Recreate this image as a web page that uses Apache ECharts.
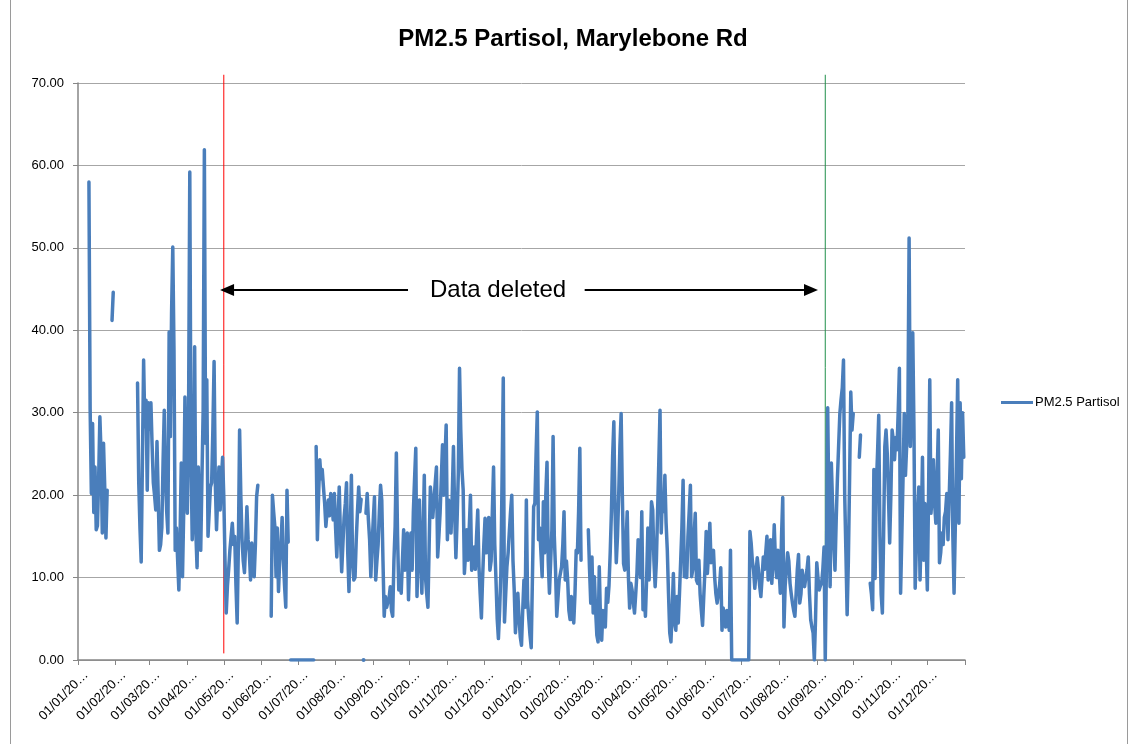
<!DOCTYPE html>
<html>
<head>
<meta charset="utf-8">
<title>PM2.5 Partisol, Marylebone Rd</title>
<script src="https://cdn.jsdelivr.net/npm/echarts@6/dist/echarts.min.js"></script>
<style>
  html, body { margin: 0; padding: 0; background: #fff; }
  #chart { width: 1129px; height: 744px; }
</style>
</head>
<body>
<div id="chart"></div>
<script>
const N = null;

// daily values, one array per month (null = no data)
const jan2010 = [N,N,N,N,N,N,N,N,N, 58.0,30.4,20.2,28.7,17.9,23.4,15.8,16.3,22.0,29.5,25.0,15.4,26.3,21.0,14.8,20.6, N,N,N, 41.2,44.6, N];
const feb2010 = [N,N,N,N,N,N,N,N,N,N,N,N,N,N,N,N,N,N, 33.6,21.5,16.0,11.9,24.0,36.4,28.3,31.5,20.6,31.2];
const mar2010 = [28.0,31.2,26.0,21.5,20.0,18.2,26.5,20.0,13.3,14.0,16.1,24.0,30.3,22.2,18.0,15.4,39.8,27.1,42.1,50.1,37.6,13.3,16.0,12.1,8.5,15.0,23.9,10.1,18.0,31.9,22.0];
const apr2010 = [17.8,30.0,59.2,25.0,14.6,20.0,38.0,15.4,11.2,23.4,18.0,13.3,22.0,30.3,61.9,26.3,34.0,15.0,18.0,21.0,21.5,28.0,36.2,21.5,15.8,20.0,23.4,18.2,22.0,24.6];
const may2010 = [19.8,12.0,5.7,9.0,11.0,13.3,15.0,16.6,14.0,15.0,9.0,4.5,14.0,27.9,20.0,14.6,12.0,10.6,14.0,18.6,14.6,13.0,9.7,14.2,14.3,10.1,14.0,19.8,21.2,N,N];
const jun2010 = [N,N,N,N,N,N,N,N, 5.3,20.0,18.0,16.2,10.1,16.0,8.3,12.1,14.0,17.3,12.1,9.0,6.4,20.6,14.3, N, 0,0,0,0,0,0];
const jul2010 = [0,0,0,0,0,0,0,0,0,0,0,0,0,0, N, 25.9,14.6,20.0,24.3,22.0,23.1,21.0,19.0,16.2,18.0,19.4,17.5,20.2,19.0,17.0,20.2];
const aug2010 = [16.0,12.5,17.0,21.0,15.0,10.7,14.0,17.3,19.0,21.5,13.0,8.3,15.0,22.4,12.0,9.7,10.0,14.6,18.0,21.0,18.0,19.5, N, 0, N, 17.8,20.2,17.0,14.6,10.1,13.9];
const sep2010 = [17.0,19.8,9.7,12.0,14.0,18.0,21.2,19.4,12.0,5.3,7.7,6.4,7.0,7.5,8.9,6.0,5.3,12.0,16.2,25.1,15.0,8.5,10.0,8.1,12.0,15.8,10.9,13.0,15.4,7.3];
const oct2010 = [12.0,15.4,10.9,18.0,22.0,25.7,7.7,14.0,19.4,12.0,8.1,15.0,22.4,10.0,8.0,6.4,14.0,21.0,19.0,17.3,17.4,21.5,23.4,12.5,15.0,17.8,22.0,26.1,20.0,24.3,28.5];
const nov2010 = [14.6,19.4,17.0,15.4,20.0,25.9,18.0,12.4,17.0,22.7,35.4,28.0,23.1,20.6,10.5,13.0,15.8,12.1,16.0,20.0,10.9,12.0,13.7,11.0,15.0,18.2,11.3,8.0,5.1,10.0];
const dec2010 = [14.0,17.2,13.0,15.0,17.3,10.9,12.0,18.0,23.4,14.0,9.7,5.0,2.6,6.0,10.5,22.0,34.2,4.6,8.0,11.3,13.0,15.6,18.0,20.0,12.0,8.5,3.3,6.0,8.1,5.0,2.8];
const jan2011 = [1.8,6.0,9.7,6.4,19.4,7.3,5.0,3.0,1.5,10.0,18.6,19.0,25.0,30.1,14.6,16.0,15.8,10.1,19.2,13.0,20.0,24.0,12.0,8.1,12.0,15.8,27.1,15.0,11.0,5.3,7.5];
const feb2011 = [9.7,10.5,11.3,14.0,18.0,9.7,12.0,9.7,6.0,4.9,7.7,6.0,4.5,8.0,13.3,13.0,18.0,25.7,12.1, N,N,N,N,N, 15.8,11.0,6.9,12.5];
const mar2011 = [5.7,10.1,6.0,3.0,2.2,11.3,5.0,2.4,6.0,5.0,4.0,8.7,7.0,9.0,13.0,18.0,24.7,28.9,18.0,11.8,15.0,20.0,26.0,29.9,20.0,11.7,10.9,14.0,18.0,10.0,6.3];
const apr2011 = [9.3,8.5,7.0,5.7,8.0,10.5,14.6,12.0,10.0,18.0,6.1,8.0,5.3,10.0,16.0,9.7,14.0,19.2,18.2,12.0,8.9,12.0,18.0,24.0,30.3,15.4,20.2,18.0,22.4,16.6];
const may2011 = [13.3,8.0,3.3,2.2,6.0,10.5,4.5,3.6,7.7,4.5,8.0,12.0,16.0,21.8,10.1,12.0,10.0,15.0,18.0,21.2,10.1,11.0,15.0,17.8,9.7,9.3,12.1,8.0,6.0,4.2,7.7];
const jun2011 = [11.0,15.6,10.5,13.0,16.6,11.8,12.0,13.3,10.0,8.0,6.9,7.0,9.0,11.2,3.6,6.3,5.0,4.0,6.0,5.0,3.6,13.3, 0,0,0,0,0,0,0,0];
const jul2011 = [0,0,0,0,0,0,0, 15.6,14.2,12.0,10.9,8.7,10.5,12.4,11.0,9.0,7.7,10.0,12.5,11.0,13.0,15.0,9.7,12.0,14.6,9.3,12.0,16.4,12.0,10.0,13.3];
const aug2011 = [11.0,8.1,15.0,19.7,4.0,9.0,11.0,13.0,12.0,9.3,8.0,6.9,6.0,5.3,8.0,11.0,12.8,6.9,8.0,10.9,9.5,8.9,10.0,11.0,12.5,8.0,4.9,4.0,3.3,0,5.0];
const sep2011 = [11.8,10.0,8.5,9.0,9.3,11.0,13.7,0,12.0,30.6,18.0,8.9,23.9,19.0,14.0,10.9,17.0,22.0,26.0,29.9,31.6,33.0,36.4,20.0,13.0,5.5,12.0,21.8,32.5,27.9];
const oct2011 = [29.9, N,N,N,N, 24.6,27.3, N,N,N,N,N,N,N, 9.3,8.0,6.1,23.1,9.9,21.0,25.0,29.7,15.0,8.0,5.7,15.0,25.9,27.9,25.1,20.0,14.2];
const nov2011 = [20.0,27.9,26.7,24.3,27.0,25.5,30.0,35.4,8.1,15.0,22.0,29.9,22.4,26.0,30.0,51.2,25.9,32.0,39.7,28.0,8.7,14.0,18.0,21.0,9.7,16.0,24.6,12.1,19.0,14.0];
const dec2011 = [8.5,20.0,34.0,17.8,20.0,24.3,19.0,16.6,22.0,27.9,11.8,13.0,15.4,14.0,17.3,18.0,20.2,14.6,19.8,25.0,31.2,15.0,8.1,16.0,25.0,34.0,16.6,31.2,22.0,30.0,24.6];

const seriesName = 'PM2.5 Partisol';
const titleText = 'PM2.5 Partisol, Marylebone Rd';
const noteText = 'Data deleted';
const yTicks = [0, 10, 20, 30, 40, 50, 60, 70];

// 01/01/2010 .. 01/01/2012 (last one only closes the axis)
const dates = [];
for (let i = 0; i <= 730; i++) {
  const d = new Date(Date.UTC(2010, 0, 1 + i));
  const dd = String(d.getUTCDate()).padStart(2, '0');
  const mm = String(d.getUTCMonth() + 1).padStart(2, '0');
  dates.push(dd + '/' + mm + '/' + d.getUTCFullYear());
}

const values = [].concat(
  jan2010, feb2010, mar2010, apr2010, may2010, jun2010,
  jul2010, aug2010, sep2010, oct2010, nov2010, dec2010,
  jan2011, feb2011, mar2011, apr2011, may2011, jun2011,
  jul2011, aug2011, sep2011, oct2011, nov2011, dec2011,
  [N]
);

// a lone reading (no neighbours) gets a dot, like Excel does
const seriesData = values.map((v, i) => {
  const lone = v !== null && values[i - 1] == null && values[i + 1] == null;
  return lone ? {value: v, symbol: 'circle', symbolSize: 4} : v;
});

const monthStart = (i, v) => v.slice(0, 2) === '01';
const font = 'Liberation Sans, Arial, sans-serif';
const blue = '#4a7ebb';

const chart = echarts.init(document.getElementById('chart'));
chart.setOption({
  animation: false,
  title: {
    text: titleText,
    left: 573,
    top: 27,
    padding: 0,
    textAlign: 'center',
    textStyle: {fontFamily: font, fontSize: 24, fontWeight: 'bold', color: '#000'}
  },
  legend: {
    data: [{name: seriesName, icon: 'rect'}],
    left: 1001,
    top: 396,
    padding: 0,
    itemWidth: 32,
    itemHeight: 3,
    itemGap: 4,
    textStyle: {fontFamily: font, fontSize: 13, color: '#000', padding: [0, 0, 0, -3]}
  },
  grid: {left: 78, right: 164, top: 83, bottom: 84},
  xAxis: {
    type: 'category',
    data: dates,
    boundaryGap: false,
    axisLine: {lineStyle: {color: '#868686', width: 1.5}},
    axisTick: {interval: monthStart, length: 5, lineStyle: {color: '#868686'}},
    axisLabel: {
      interval: (i, v) => monthStart(i, v) && i < 730,
      rotate: 45,
      margin: 5,
      verticalAlign: 'top',
      lineHeight: 23,
      formatter: v => v.slice(0, 8) + '\u2026',
      fontFamily: font,
      fontSize: 13,
      color: '#000'
    },
    splitLine: {show: false}
  },
  yAxis: {
    type: 'value',
    min: yTicks[0],
    max: yTicks[yTicks.length - 1],
    interval: 10,
    axisLine: {show: true, lineStyle: {color: '#868686', width: 1.5}},
    axisTick: {show: true, length: 5, lineStyle: {color: '#868686'}},
    axisLabel: {formatter: v => v.toFixed(2), fontFamily: font, fontSize: 13, color: '#000', margin: 14},
    splitLine: {lineStyle: {color: '#a6a6a6', width: 1}}
  },
  series: [{
    name: seriesName,
    type: 'line',
    data: seriesData,
    showSymbol: true,
    showAllSymbol: true,
    symbol: 'none',
    connectNulls: false,
    itemStyle: {color: blue},
    lineStyle: {color: blue, width: 3.5, cap: 'round', join: 'round'},
    emphasis: {disabled: true}
  }]
});

// annotations: the two marker lines, the arrows and the note
const x0 = chart.convertToPixel({gridIndex: 0}, [0, 0])[0];
const x1 = chart.convertToPixel({gridIndex: 0}, [730, 0])[0];
const xOf = d => x0 + (x1 - x0) * d / 730;
const yOf = v => chart.convertToPixel({gridIndex: 0}, [0, v])[1];

function arrow(fromDay, toDay, v) {
  const xa = xOf(fromDay), xb = xOf(toDay), y = yOf(v);
  const dir = xb > xa ? 1 : -1;
  const len = 14, half = 6;
  return [
    {type: 'line', shape: {x1: xa, y1: y, x2: xb - dir * len, y2: y}, style: {stroke: '#000', lineWidth: 2}},
    {type: 'polygon', shape: {points: [[xb, y], [xb - dir * len, y - half], [xb - dir * len, y + half]]}, style: {fill: '#000'}}
  ];
}

chart.setOption({
  graphic: [
    {type: 'rect', shape: {x: 10.5, y: -5, width: 1117, height: 800}, style: {fill: 'none', stroke: '#9a9a9a', lineWidth: 1}, silent: true},
    {type: 'line', shape: {x1: xOf(120), y1: yOf(71), x2: xOf(120), y2: yOf(0.8)}, style: {stroke: '#ff0000', lineWidth: 1}},
    {type: 'line', shape: {x1: xOf(615), y1: yOf(71), x2: xOf(615), y2: yOf(0)}, style: {stroke: '#1f8f4a', lineWidth: 1}},
    ...arrow(271.6, 116.9, 44.9),
    ...arrow(417, 609, 44.9),
    {type: 'text', x: xOf(345.7), y: yOf(44.9), style: {text: noteText, font: '24px ' + font, fill: '#000', textAlign: 'center', textVerticalAlign: 'middle'}}
  ]
});
</script>
</body>
</html>
